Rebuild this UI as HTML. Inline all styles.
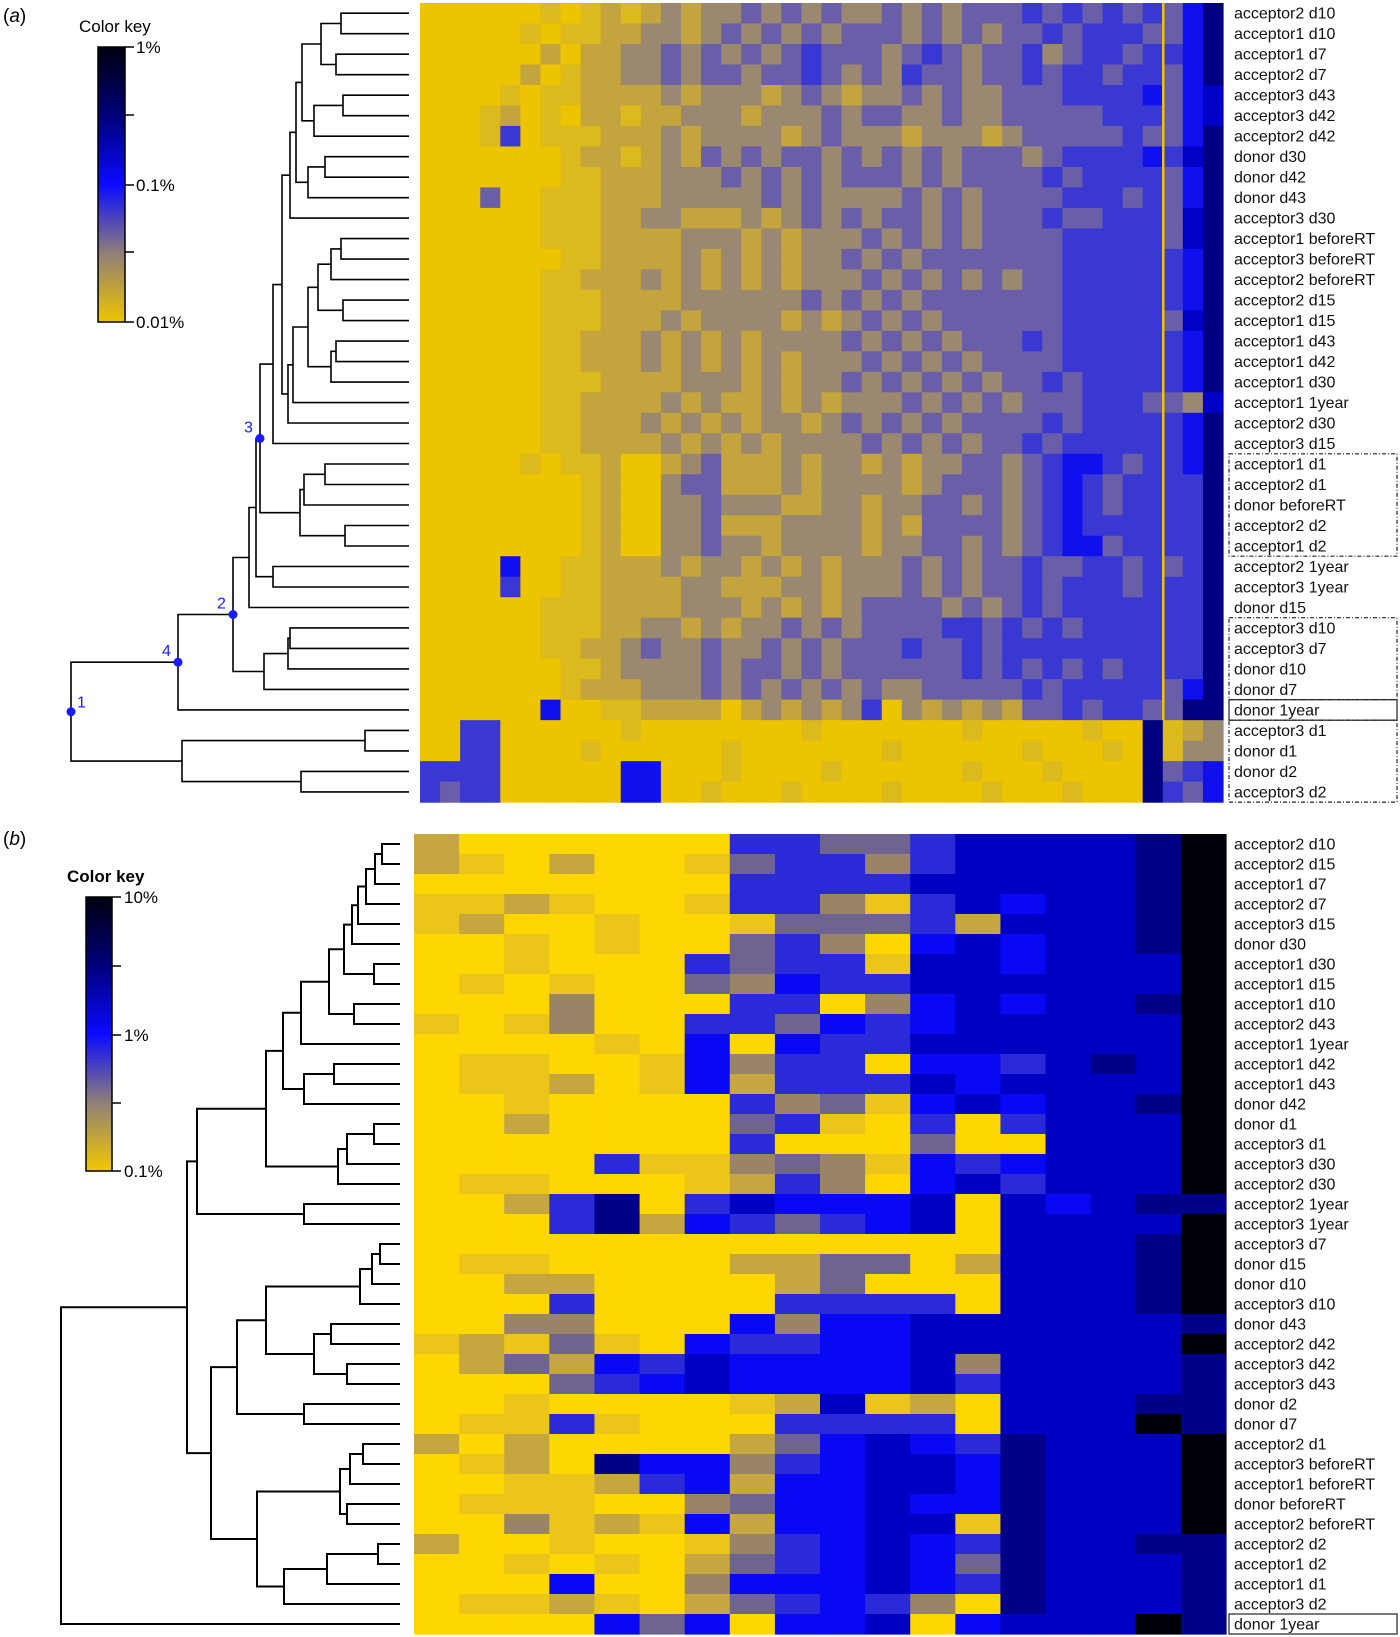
<!DOCTYPE html>
<html><head><meta charset="utf-8"><style>
html,body{margin:0;padding:0;background:#fff;}
svg{display:block;font-family:"Liberation Sans",Arial,sans-serif;}
</style></head>
<body>
<svg id="fig" width="1400" height="1637" viewBox="0 0 1400 1637" xmlns="http://www.w3.org/2000/svg">
<defs>
<linearGradient id="gA" x1="0" y1="1" x2="0" y2="0">
<stop offset="0" stop-color="#edc400"/><stop offset="0.25" stop-color="#8f7f78"/><stop offset="0.5" stop-color="#0a0aff"/><stop offset="0.75" stop-color="#00007a"/><stop offset="1" stop-color="#000010"/>
</linearGradient>
<linearGradient id="gB" x1="0" y1="1" x2="0" y2="0">
<stop offset="0" stop-color="#f2c800"/><stop offset="0.25" stop-color="#8f7f78"/><stop offset="0.5" stop-color="#0a0aff"/><stop offset="0.75" stop-color="#00007a"/><stop offset="1" stop-color="#000010"/>
</linearGradient>
</defs>
<text x="3" y="22" font-size="19">(<tspan font-style="italic">a</tspan>)</text>
<text x="3" y="845" font-size="19">(<tspan font-style="italic">b</tspan>)</text>
<g>
<text x="79" y="32" font-size="17">Color key</text>
<rect x="98" y="47" width="27" height="275" fill="url(#gA)" stroke="#000" stroke-width="1.5"/>
<g stroke="#000" stroke-width="1.5">
<line x1="125" y1="47" x2="134" y2="47"/><line x1="125" y1="115" x2="134" y2="115"/><line x1="125" y1="185" x2="134" y2="185"/><line x1="125" y1="252" x2="134" y2="252"/><line x1="125" y1="322" x2="134" y2="322"/>
</g>
<text x="136" y="53" font-size="17">1%</text>
<text x="136" y="191" font-size="17">0.1%</text>
<text x="136" y="328" font-size="17">0.01%</text>
</g>
<g>
<text x="67" y="882" font-size="17" font-weight="bold">Color key</text>
<rect x="86" y="897" width="26" height="274" fill="url(#gB)" stroke="#000" stroke-width="1.5"/>
<g stroke="#000" stroke-width="1.5">
<line x1="112" y1="897" x2="121" y2="897"/><line x1="112" y1="966" x2="121" y2="966"/><line x1="112" y1="1035" x2="121" y2="1035"/><line x1="112" y1="1103" x2="121" y2="1103"/><line x1="112" y1="1171" x2="121" y2="1171"/>
</g>
<text x="124" y="903" font-size="17">10%</text>
<text x="124" y="1041" font-size="17">1%</text>
<text x="124" y="1177" font-size="17">0.1%</text>
</g>
</svg>
<script>
// ---------- Panel A data ----------
var labelsA = ["acceptor2 d10","acceptor1 d10","acceptor1 d7","acceptor2 d7","acceptor3 d43","acceptor3 d42","acceptor2 d42","donor d30","donor d42","donor d43","acceptor3 d30","acceptor1 beforeRT","acceptor3 beforeRT","acceptor2 beforeRT","acceptor2 d15","acceptor1 d15","acceptor1 d43","acceptor1 d42","acceptor1 d30","acceptor1 1year","acceptor2 d30","acceptor3 d15","acceptor1 d1","acceptor2 d1","donor beforeRT","acceptor2 d2","acceptor1 d2","acceptor2 1year","acceptor3 1year","donor d15","acceptor3 d10","acceptor3 d7","donor d10","donor d7","donor 1year","acceptor3 d1","donor d1","donor d2","acceptor3 d2"];
var valuesA = [
"0000001012123233434343343434445454545468",
"0000010112233234343434443434344545554468",
"0000002022334343434544434543445345545568",
"0000020122334344344543435443445455455468",
"0000101122223233323432334343344455556467",
"0001201022122333233343443343344444555467",
"0001501112223233332343332333234444454468",
"0000000122123243434434343434443455556578",
"0000000112223334343434443434444545555468",
"0004001112223333343433334343444455545468",
"0000001112233222323434344343444544555478",
"0000001112222333232333434343444455555478",
"0000000112222323232334343444444455555568",
"0000001122232323232333434343434455555568",
"0000001112222333333434343444444455555568",
"0000001112223233332323434344444455555478",
"0000001122232323233334343434445455555568",
"0000001122232323232333434343444455555568",
"0000001112222333232334343434344545555568",
"0000001122223232232323334343434445554437",
"0000001122232323233234343434444545555568",
"0000001122223232323333434343445455555568",
"0000010112002342223233232334434566545568",
"0000000012003442223233332344434565455558",
"0000000012003343332233233443434565455558",
"0000000012003342223333232444434565555558",
"0000000012003343323333233443434566455558",
"0000600112223233232323334343445445545458",
"0000500112222332223323334343445455545558",
"0000001112222333232323444434345455555558",
"0000001112233232334343444455454545555558",
"0000001122343343343434445445455555555558",
"0000000112333343443434444445454545455558",
"0000000122233343434343433444445455555468",
"0000006001122220232323503232324454554488",
"0055000000100000000100000001000001008123",
"0055000010000001000000010000001000108133",
"5555000000660001000010000001000100008456",
"5455000000660010001000010000100010008546"];
var mergeLeftA  = [-1,-3,1,-5,4,3,-8,7,6,9,-12,11,-15,12,-17,15,14,17,18,10,20,-23,22,-26,23,21,-28,26,28,-31,30,31,29,33,-36,-38,35,34];
var mergeRightA = [-2,-4,2,-6,-7,5,-9,-10,8,-11,-13,-14,-16,13,-18,-19,16,-20,-21,19,-22,-24,-25,-27,24,25,-29,27,-30,-32,-33,-34,32,-35,-37,-39,36,37];
var mergeHeightA= [68,73,88,66,95,107,84,101,113,119,68,78,66,91,73,78,101,116,121,127,136,84,105,64,109,149,136,153,160,119,121,145,176,231,44,108,227,338];
var nodeMarksA = [26,33,34,38];
var nodeMarkNamesA = ["3","2","4","1"];

// ---------- Panel B data ----------
var labelsB = ["acceptor2 d10","acceptor2 d15","acceptor1 d7","acceptor2 d7","acceptor3 d15","donor d30","acceptor1 d30","acceptor1 d15","acceptor1 d10","acceptor2 d43","acceptor1 1year","acceptor1 d42","acceptor1 d43","donor d42","donor d1","acceptor3 d1","acceptor3 d30","acceptor2 d30","acceptor2 1year","acceptor3 1year","acceptor3 d7","donor d15","donor d10","acceptor3 d10","donor d43","acceptor2 d42","acceptor3 d42","acceptor3 d43","donor d2","donor d7","acceptor2 d1","acceptor3 beforeRT","acceptor1 beforeRT","donor beforeRT","acceptor2 beforeRT","acceptor2 d2","acceptor1 d2","acceptor1 d1","acceptor3 d2","donor 1year"];
var valuesB = [
[2,0,0,0,0,0,0,5,5,4,4,5,7,7,7,7,8,9],
[2,1,0,2,0,0,1,4,5,5,3,5,7,7,7,7,8,9],
[0,0,0,0,0,0,0,5,5,5,5,7,7,7,7,7,8,9],
[1,1,2,1,0,0,1,5,5,3,1,5,7,6,7,7,8,9],
[1,2,0,0,1,0,0,1,4,4,4,5,2,7,7,7,8,9],
[0,0,1,0,1,0,0,4,5,3,0,6,7,6,7,7,8,9],
[0,0,1,0,0,0,5,4,5,5,1,7,7,6,7,7,7,9],
[0,1,0,1,0,0,4,3,6,5,5,7,7,7,7,7,7,9],
[0,0,0,3,0,0,0,5,5,0,3,6,7,6,7,7,8,9],
[1,0,1,3,0,0,5,5,4,6,5,6,7,7,7,7,7,9],
[0,0,0,0,1,0,6,0,6,5,5,7,7,7,7,7,7,9],
[0,1,1,0,0,1,6,3,5,5,0,6,6,5,7,8,7,9],
[0,1,1,2,0,1,6,2,5,5,5,7,6,7,7,7,7,9],
[0,0,1,0,0,0,0,5,3,4,1,6,7,6,7,7,8,9],
[0,0,2,0,0,0,0,4,5,1,0,5,0,5,7,7,7,9],
[0,0,0,0,0,0,0,5,0,0,0,4,0,0,7,7,7,9],
[0,0,0,0,5,1,1,3,4,3,1,6,5,6,7,7,7,9],
[0,1,1,0,0,0,1,2,5,3,0,6,7,5,7,7,7,9],
[0,0,2,5,8,0,5,7,6,6,6,7,0,7,6,7,8,8],
[0,0,0,5,8,2,6,5,4,5,6,7,0,7,7,7,7,9],
[0,0,0,0,0,0,0,0,0,0,0,0,0,7,7,7,8,9],
[0,1,1,0,0,0,0,2,2,4,4,0,2,7,7,7,8,9],
[0,0,2,2,0,0,0,0,2,4,0,0,0,7,7,7,8,9],
[0,0,0,5,0,0,0,0,5,5,5,5,0,7,7,7,8,9],
[0,0,3,3,0,0,0,6,3,6,6,7,7,7,7,7,7,8],
[1,2,1,4,1,0,6,5,5,6,6,7,7,7,7,7,7,9],
[0,2,4,2,6,5,7,6,6,6,6,7,3,7,7,7,7,8],
[0,0,0,4,5,6,7,6,6,6,6,7,5,7,7,7,7,8],
[0,0,1,0,0,0,0,1,2,7,1,2,0,7,7,7,8,8],
[0,1,1,5,1,0,0,0,5,5,5,5,0,7,7,7,9,8],
[2,0,2,0,0,0,0,2,4,6,7,6,5,8,7,7,7,9],
[0,1,2,0,8,6,6,3,5,6,7,7,6,8,7,7,7,9],
[0,0,1,1,2,5,6,2,6,6,7,7,6,8,7,7,7,9],
[0,1,1,1,0,0,3,4,6,6,7,6,6,8,7,7,7,9],
[0,0,3,1,2,1,6,2,6,6,7,7,1,8,7,7,7,9],
[2,0,0,1,0,0,1,3,5,6,7,6,5,8,7,7,8,8],
[0,0,1,0,1,0,2,4,5,6,7,6,4,8,7,7,7,8],
[0,0,0,6,0,0,3,6,6,6,7,6,5,8,7,7,7,8],
[0,1,1,2,1,0,2,4,5,6,5,3,0,8,7,7,7,8],
[0,0,0,0,6,4,6,0,6,6,7,0,6,7,7,7,9,8]];
var mergeLeftB  = [-1,1,2,3,4,-7,5,-9,7,9,-12,11,10,-15,14,15,13,-19,17,-21,20,21,-25,-27,23,22,-29,26,-31,29,-34,30,-36,33,34,32,28,19,38];
var mergeRightB = [-2,-3,-4,-5,-6,-8,6,-10,8,-11,-13,-14,12,-16,-17,-18,16,-20,18,-22,-23,-24,-26,-28,24,25,-30,27,-32,-33,-35,31,-37,-38,-39,35,36,37,-40];
var mergeHeightB= [18,25,34,42,48,26,56,46,71,99,66,96,117,26,53,62,134,96,203,20,28,40,69,53,86,134,96,163,37,50,53,60,22,73,116,143,189,213,339];

// ---------- helpers ----------
var svg = document.getElementById('fig');
var NS = 'http://www.w3.org/2000/svg';
function mk(tag, attrs, parent){
  var e = document.createElementNS(NS, tag);
  for (var k in attrs) e.setAttribute(k, attrs[k]);
  (parent||svg).appendChild(e);
  return e;
}
var stopsA = ["#edc400","#dcb91c","#c4a43c","#9a8870","#6a5ea8","#3a38d2","#1010ee","#0000c6","#000080","#000018"];
var stopsB = ["#ffd700","#ecc51a","#c6a63e","#9a8468","#6f6490","#2a2ad8","#0808f5","#0000c4","#000088","#000008"];

function heatmap(name, values, stops, x0, x1, y0, rowH){
  var g = mk('g', {});
  
  
  for (var r = 0; r < values.length; r++){
    var row = values[r];
    var n = row.length;
    var cw = (x1 - x0) / n;
    for (var c = 0; c < n; c++){
      var v = typeof row === 'string' ? parseInt(row.charAt(c), 10) : row[c];
      var cell = mk('rect', {x: (x0 + c*cw).toFixed(2), y: (y0 + r*rowH).toFixed(2), width: (cw+0.6).toFixed(2), height: (rowH+0.6).toFixed(2), fill: stops[v]}, g);
      
      
    }
  }
}
function rowLabels(name, labels, x, y0, rowH){
  var g = mk('g', {});
  
  
  for (var i = 0; i < labels.length; i++){
    var t = mk('text', {x: x, y: (y0 + (i+0.5)*rowH + 5.5).toFixed(1), 'font-size': 16, fill: '#111'}, g);
    t.textContent = labels[i];
    
    
  }
}
function dendro(name, L, R, H, leafX, hScale, y0, rowH, sw){
  var g = mk('g', {stroke: '#000', 'stroke-width': sw, fill: 'none'});
  
  
  var pos = [];
  function getPos(id){
    if (id < 0) return {x: leafX, y: y0 + (-id - 0.5)*rowH};
    return pos[id-1];
  }
  for (var m = 0; m < H.length; m++){
    var a = getPos(L[m]), b = getPos(R[m]);
    var x = leafX - H[m]*hScale;
    var p = mk('path', {d: 'M' + a.x.toFixed(1) + ',' + a.y.toFixed(1) + 'H' + x.toFixed(1) + 'V' + b.y.toFixed(1) + 'H' + b.x.toFixed(1)}, g);
    
    
    pos.push({x: x, y: (a.y + b.y)/2});
  }
  return pos;
}

// ---------- Panel A ----------
var aY0 = 3, aRowH = 20.49, aX0 = 420, aX1 = 1223;
heatmap('heatmap-a', valuesA, stopsA, aX0, aX1, aY0, aRowH);
var thin = mk('rect', {x: 1162, y: aY0, width: 2.5, height: 35*aRowH, fill: '#edc400'});


rowLabels('row-labels-a', labelsA, 1234, aY0, aRowH);
var posA = dendro('dendrogram-a', mergeLeftA, mergeRightA, mergeHeightA, 409, 1.0, aY0, aRowH, 1.6);
var lblOff = [[-16,-6],[-16,-6],[-16,-6],[6,-4]];
for (var k = 0; k < nodeMarksA.length; k++){
  var p = posA[nodeMarksA[k]-1];
  var dot = mk('circle', {cx: p.x.toFixed(1), cy: p.y.toFixed(1), r: 4.5, fill: '#1a1aff'});
  
  
  var t = mk('text', {x: (p.x + lblOff[k][0]).toFixed(1), y: (p.y + lblOff[k][1]).toFixed(1), 'font-size': 16, fill: '#1a1aff'});
  t.textContent = nodeMarkNamesA[k];
  
  
}
function box(name, r0, r1, y0, rowH, dashed){
  var b = mk('rect', {x: 1229, y: (y0 + r0*rowH).toFixed(1), width: 168, height: ((r1-r0)*rowH).toFixed(1), fill: 'none', stroke: '#222', 'stroke-width': 1.2});
  if (dashed) b.setAttribute('stroke-dasharray', '4,2,1,2');
  
  
}
box('group-box-early-days', 22, 27, aY0, aRowH, true);
box('group-box-d7-d10', 30, 34, aY0, aRowH, true);
box('group-box-donor-1year-a', 34, 35, aY0, aRowH, false);
box('group-box-d1-d2', 35, 39, aY0, aRowH, true);

// ---------- Panel B ----------
var bY0 = 834, bRowH = 20, bX0 = 414, bX1 = 1226;
heatmap('heatmap-b', valuesB, stopsB, bX0, bX1, bY0, bRowH);
rowLabels('row-labels-b', labelsB, 1234, bY0, bRowH);
dendro('dendrogram-b', mergeLeftB, mergeRightB, mergeHeightB, 400, 1.0, bY0, bRowH, 2);
box('group-box-donor-1year-b', 39, 40, bY0, bRowH, false);
</script>
</body></html>
